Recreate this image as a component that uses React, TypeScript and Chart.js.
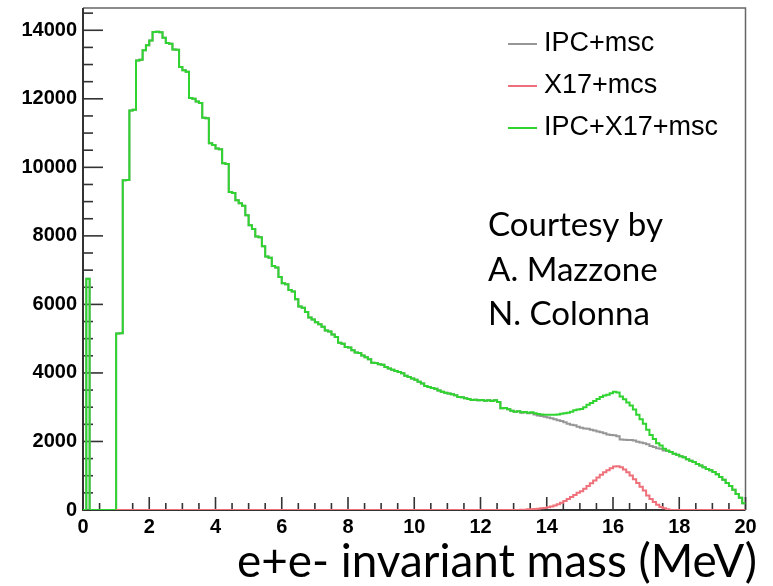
import React, { useEffect, useRef } from "react";
import { Chart, registerables } from "chart.js";

Chart.register(...registerables);

// ---------- data ----------
const BIN_WIDTH = 0.1; // MeV per histogram bin
const X_MIN = 0;
const X_MAX = 20;
const Y_MIN = 0;
const Y_MAX = 14650;
const xTickValues = [0, 2, 4, 6, 8, 10, 12, 14, 16, 18, 20];
const yTickValues = [0, 2000, 4000, 6000, 8000, 10000, 12000, 14000];
const X_MINOR_STEP = 0.5;
const Y_MINOR_STEP = 500;

// IPC + multiple scattering, counts per 0.1 MeV bin (0 .. 20 MeV)
const ipcCounts: number[] = [
  0, 6750, 0, 0, 0, 0, 0, 0, 0, 0,
  5150, 5160, 9620, 9630, 11660, 11680, 13120, 13140, 13420, 13560,
  13700, 13950, 13960, 13940, 13780, 13630, 13610, 13440, 13430, 12930,
  12830, 12790, 12020, 12000, 11920, 11880, 11450, 11430, 10700, 10650,
  10550, 10530, 10120, 10100, 9280, 9250, 9040, 8950, 8880, 8600,
  8310, 8200, 7980, 7960, 7700, 7400, 7360, 7120, 7080, 6800,
  6620, 6590, 6420, 6380, 6150, 5940, 5900, 5780, 5620, 5560,
  5480, 5420, 5350, 5240, 5210, 5120, 5050, 4880, 4850, 4760,
  4740, 4660, 4600, 4580, 4510, 4460, 4400, 4300, 4290, 4250,
  4240, 4170, 4130, 4090, 4060, 4030, 3990, 3920, 3880, 3840,
  3800, 3740, 3690, 3620, 3590, 3560, 3540, 3490, 3450, 3420,
  3400, 3380, 3350, 3300, 3290, 3260, 3240, 3210, 3220, 3200,
  3210, 3190, 3200, 3180, 3200, 3150, 2970, 2980, 2940, 2900,
  2870, 2880, 2840, 2850, 2820, 2830, 2790, 2760, 2740, 2720,
  2700, 2680, 2650, 2620, 2600, 2560, 2520, 2490, 2470, 2430,
  2400, 2380, 2370, 2340, 2320, 2290, 2270, 2240, 2200, 2190,
  2180, 2150, 2060, 2050, 2040, 2040, 2030, 1990, 1970, 1950,
  1920, 1870, 1840, 1800, 1790, 1740, 1720, 1690, 1640, 1610,
  1570, 1540, 1480, 1440, 1400, 1340, 1300, 1250, 1200, 1160,
  1110, 1040, 960, 880, 790, 700, 590, 470, 360, 200,
];

// X17 + multiple scattering, counts per 0.1 MeV bin (null = not simulated)
const x17Counts: (number | null)[] = [
  null, null, null, null, null, null, null, null, null, null,
  0, 0, 0, 0, 0, 0, 0, 0, 0, 0,
  0, 0, 0, 0, 0, 0, 0, 0, 0, 0,
  0, 0, 0, 0, 0, 0, 0, 0, 0, 0,
  0, 0, 0, 0, 0, 0, 0, 0, 0, 0,
  0, 0, 0, 0, 0, 0, 0, 0, 0, 0,
  0, 0, 0, 0, 0, 0, 0, 0, 0, 0,
  0, 0, 0, 0, 0, 0, 0, 0, 0, 0,
  0, 0, 0, 0, 0, 0, 0, 0, 0, 0,
  0, 0, 0, 0, 0, 0, 0, 0, 0, 0,
  0, 0, 0, 0, 0, 0, 0, 0, 0, 0,
  0, 0, 0, 0, 0, 0, 0, 0, 0, 0,
  0, 0, 0, 0, 0, 0, 0, 0, 0, 0,
  0, 0, 10, 10, 20, 20, 30, 40, 50, 60,
  80, 100, 130, 170, 210, 260, 320, 380, 440, 500,
  550, 620, 700, 780, 860, 950, 1030, 1100, 1160, 1220,
  1270, 1280, 1250, 1180, 1100, 1010, 900, 790, 680, 570,
  420, 320, 230, 150, 90, 50, 20, 0, 0, 0,
  0, 0, 0, 0, 0, 0, 0, 0, 0, 0,
  0, 0, 0, 0, 0, 0, 0, 0, 0, 0,
];

const seriesLabels = ["IPC+msc", "X17+mcs", "IPC+X17+msc"];
const seriesColors = ["rgb(150,150,150)", "rgb(238,112,122)", "rgb(48,212,48)"];
const annotationLines = ["Courtesy by", "A. Mazzone", "N. Colonna"];
const xTitle = "e+e- invariant mass (MeV)";

// ---------- helpers ----------
type Pt = { x: number; y: number };
function toSteps(counts: (number | null)[]): Pt[] {
  const pts: Pt[] = [];
  counts.forEach((v, i) => {
    if (v === null) return;
    pts.push({ x: X_MIN + i * BIN_WIDTH, y: v });
  });
  const last = counts[counts.length - 1] as number;
  pts.push({ x: X_MIN + counts.length * BIN_WIDTH, y: last });
  return pts;
}

const totalCounts = ipcCounts.map((v, i) => v + (x17Counts[i] ?? 0));

const TICK_FONT = { family: "'Liberation Sans', Arial, sans-serif", size: 20, weight: "bold" as const };

function fitFontSize(ctx: CanvasRenderingContext2D, text: string, font: string, width: number) {
  ctx.font = `100px ${font}`;
  const w = ctx.measureText(text).width;
  return (100 * width) / w;
}

const decorPlugin = {
  id: "decor",
  beforeDatasetsDraw(chart: any) {
    const { ctx, chartArea } = chart;
    const { left, right, top, bottom } = chartArea;
    const xs = chart.scales.x;
    const ys = chart.scales.y;
    ctx.save();
    // frame: top & right
    ctx.lineWidth = 1.5;
    ctx.strokeStyle = "#666";
    ctx.beginPath();
    ctx.moveTo(left, top);
    ctx.lineTo(right, top);
    ctx.lineTo(right, bottom);
    ctx.stroke();
    // axes: left & bottom
    ctx.lineWidth = 2;
    ctx.strokeStyle = "#333";
    ctx.beginPath();
    ctx.moveTo(left, top);
    ctx.lineTo(left, bottom);
    ctx.lineTo(right, bottom);
    ctx.stroke();
    // inward ticks
    ctx.lineWidth = 1.6;
    const nyMinor = Math.floor((Y_MAX - Y_MIN) / Y_MINOR_STEP);
    for (let k = 0; k <= nyMinor; k++) {
      const v = Y_MIN + k * Y_MINOR_STEP;
      const py = ys.getPixelForValue(v);
      const major = yTickValues.includes(v);
      ctx.beginPath();
      ctx.moveTo(left, py);
      ctx.lineTo(left + (major ? 20 : 10), py);
      ctx.stroke();
    }
    const nxMinor = Math.round((X_MAX - X_MIN) / X_MINOR_STEP);
    for (let k = 0; k <= nxMinor; k++) {
      const v = X_MIN + k * X_MINOR_STEP;
      const px = xs.getPixelForValue(v);
      const major = xTickValues.some((t) => Math.abs(t - v) < 1e-6);
      ctx.beginPath();
      ctx.moveTo(px, bottom);
      ctx.lineTo(px, bottom - (major ? 13 : 7));
      ctx.stroke();
    }
    ctx.restore();
  },
  afterDraw(chart: any) {
    const { ctx } = chart;
    ctx.save();
    // legend
    ctx.font = "27px 'Liberation Sans', Arial, sans-serif";
    ctx.textBaseline = "middle";
    ctx.textAlign = "left";
    const legendY = [44, 86, 128];
    seriesLabels.forEach((lab, i) => {
      ctx.strokeStyle = seriesColors[i];
      ctx.lineWidth = 2;
      ctx.beginPath();
      ctx.moveTo(508, legendY[i]);
      ctx.lineTo(537, legendY[i]);
      ctx.stroke();
      ctx.fillStyle = "#000";
      ctx.fillText(lab, 544, legendY[i]);
    });
    // annotation
    const annFam = "Lato, 'Open Sans', sans-serif";
    const annSize = fitFontSize(ctx, annotationLines[0], annFam, 175);
    ctx.font = `${annSize}px ${annFam}`;
    ctx.textBaseline = "alphabetic";
    ctx.fillStyle = "#000";
    const annY = [236, 281, 325];
    annotationLines.forEach((t, i) => ctx.fillText(t, 488, annY[i]));
    // x title
    const tSize = fitFontSize(ctx, xTitle, annFam, 520);
    ctx.font = `${tSize}px ${annFam}`;
    ctx.fillText(xTitle, 237, 577);
    ctx.restore();
  },
};

export default function App() {
  const ref = useRef<HTMLCanvasElement>(null);
  useEffect(() => {
    if (!ref.current) return;
    const common = {
      pointRadius: 0,
      borderWidth: 2,
      fill: false,
      stepped: true,
      tension: 0,
    };
    const chart = new Chart(ref.current, {
      type: "line",
      data: {
        datasets: [
          { ...common, label: seriesLabels[0], data: toSteps(ipcCounts), borderColor: seriesColors[0], order: 2 },
          { ...common, label: seriesLabels[1], data: toSteps(x17Counts), borderColor: seriesColors[1], order: 0 },
          { ...common, label: seriesLabels[2], data: toSteps(totalCounts), borderColor: seriesColors[2], order: 1 },
        ],
      },
      options: {
        animation: false,
        responsive: false,
        devicePixelRatio: 1,
        layout: { padding: { left: 0, top: 8, right: 27.5, bottom: 0 } },
        plugins: { legend: { display: false }, tooltip: { enabled: false } },
        scales: {
          x: {
            type: "linear",
            min: X_MIN,
            max: X_MAX,
            grid: { display: false, drawTicks: false },
            border: { display: false },
            afterBuildTicks: (s: any) => {
              s.ticks = xTickValues.map((value) => ({ value }));
            },
            ticks: {
              font: TICK_FONT,
              color: "#000",
              padding: 5,
              maxRotation: 0,
              autoSkip: false,
              callback: (v: any) => String(v),
            },
            afterFit: (s: any) => {
              s.height = 76;
              s.paddingLeft = 0;
              s.paddingRight = 0;
            },
          },
          y: {
            type: "linear",
            min: Y_MIN,
            max: Y_MAX,
            grid: { display: false, drawTicks: false },
            border: { display: false },
            afterBuildTicks: (s: any) => {
              s.ticks = yTickValues.map((value) => ({ value }));
            },
            ticks: {
              font: TICK_FONT,
              color: "#000",
              padding: 6,
              autoSkip: false,
              callback: (v: any) => String(v),
            },
            afterFit: (s: any) => {
              s.width = 83;
              s.paddingTop = 0;
              s.paddingBottom = 0;
            },
          },
        },
      } as any,
      plugins: [decorPlugin],
    });
    return () => chart.destroy();
  }, []);
  return (
    <div style={{ position: "absolute", left: 0, top: 0, width: 773, height: 586, background: "#fff" }}>
      <canvas ref={ref} width={773} height={586} style={{ display: "block" }} />
    </div>
  );
}
